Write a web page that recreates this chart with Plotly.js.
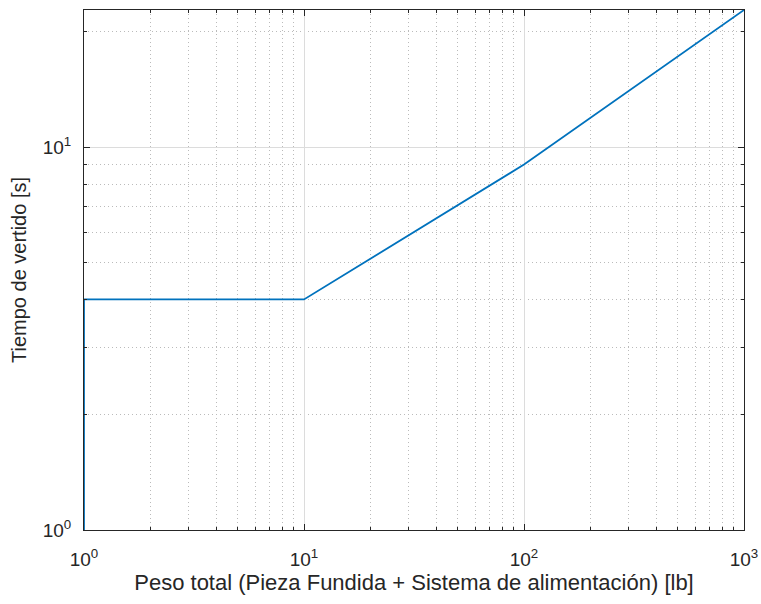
<!DOCTYPE html>
<html>
<head>
<meta charset="utf-8">
<script src="https://cdn.plot.ly/plotly-3.0.1.min.js"></script>
<style>html,body{margin:0;padding:0;background:#fff;}#chart{width:761px;height:604px;}</style>
</head>
<body>
<div id="chart"></div>
<script>
// Data (log-log)
const pesoTotal = [1, 1, 10, 100, 1000];          // lb
const tiempoVertido = [1, 4, 4, 9, 22.8];         // s
const xTickVals = [1, 10, 100, 1000];
const xTickText = ['10<sup>0</sup>', '10<sup>1</sup>', '10<sup>2</sup>', '10<sup>3</sup>'];
const yTickVals = [1, 10];
const yTickText = ['10<sup>0</sup>', '10<sup>1</sup>'];
const xMinorTicks = [2,3,4,5,6,7,8,9, 20,30,40,50,60,70,80,90, 200,300,400,500,600,700,800,900];
const yMinorTicks = [2,3,4,5,6,7,8,9, 20];
const xTitle = 'Peso total (Pieza Fundida + Sistema de alimentación) [lb]';
const yTitle = 'Tiempo de vertido [s]';

const font = 'Liberation Sans, Arial, Helvetica, sans-serif';
function axis(extra, minorVals) {
  return Object.assign({
    type: 'log',
    showline: true, linecolor: '#262626', linewidth: 1, mirror: 'ticks',
    ticks: 'inside', ticklen: 6, tickcolor: '#262626', tickwidth: 1,
    showgrid: true, gridcolor: '#dcdcdc', gridwidth: 1,
    zeroline: false,
    tickfont: {family: font, size: 19, color: '#262626'},
    minor: {tickmode: 'array', tickvals: minorVals,
            showgrid: true, gridcolor: '#bbbbbb', griddash: '1px,3px', gridwidth: 1,
            ticks: 'inside', ticklen: 3, tickcolor: '#262626'}
  }, extra);
}

const trace = {
  x: pesoTotal, y: tiempoVertido, type: 'scatter', mode: 'lines',
  line: {color: '#0072BD', width: 1.8}, showlegend: false, hoverinfo: 'none'
};

const layout = {
  width: 761, height: 604,
  margin: {l: 84, r: 17, t: 10, b: 74},
  paper_bgcolor: '#fff', plot_bgcolor: '#fff',
  font: {family: font, color: '#262626'},
  xaxis: axis({
    range: [0, 3], tickmode: 'array', tickvals: xTickVals, ticktext: xTickText, ticklabelstandoff: 12,
    title: {text: xTitle, font: {family: font, size: 22, color: '#262626'}, standoff: 4}
  }, xMinorTicks),
  yaxis: axis({
    range: [0, Math.log10(22.8)], tickmode: 'array', tickvals: yTickVals, ticktext: yTickText, ticklabelstandoff: 8,
    title: {text: yTitle, font: {family: font, size: 20, color: '#262626'}, standoff: 10}
  }, yMinorTicks)
};

Plotly.newPlot('chart', [trace], layout, {staticPlot: true, displayModeBar: false});
</script>
</body>
</html>
